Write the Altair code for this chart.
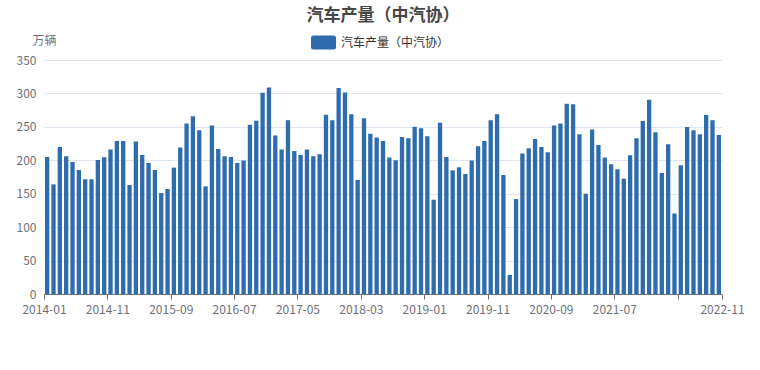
import altair as alt
import pandas as pd

# Monthly car production (CAAM), 10k vehicles, 2014-01 .. 2022-11
values = [
    205, 164, 220, 206, 197.5, 185.5, 171.6, 171.6, 200.5, 204.5, 216, 229,      # 2014
    229, 163, 228, 208, 196, 185.5, 151, 157, 189, 219, 255, 266,                # 2015
    245, 161, 252, 217, 206, 205, 196, 199.5, 253, 259, 301, 309,                # 2016
    237, 216, 260, 214, 208, 216, 206, 209, 268, 260, 308, 301.5,                # 2017
    268.7, 170.6, 262.7, 239.8, 234, 229, 204, 200, 235, 233, 250, 248,          # 2018
    236, 141, 256, 205, 185, 189.5, 179.6, 199.5, 221, 229, 260, 268.7,          # 2019
    178, 28.4, 142, 210, 218, 232, 220, 212, 252, 255, 284.6, 284,               # 2020
    239, 150, 246, 223, 204, 194, 186.6, 172.6, 207.5, 233, 258.7, 290.5,        # 2021
    242, 181, 224, 120.4, 192.5, 249.8, 245, 239, 267.7, 259.7, 238,             # 2022
]
months = [f"{2014 + i // 12}-{i % 12 + 1:02d}" for i in range(len(values))]
series_name = "汽车产量（中汽协）"
tick_index = [0, 10, 20, 30, 40, 50, 60, 70, 80, 90, 100, 107]
tick_labels = ["2014-01", "2014-11", "2015-09", "2016-07", "2017-05", "2018-03",
               "2019-01", "2019-11", "2020-09", "2021-07", "", "2022-11"]

df = pd.DataFrame({
    "i": list(range(len(values))),
    "month": months,
    "value": values,
    "series": [series_name] * len(values),
})

FONT = "Noto Sans CJK SC"
GREY = "#6E7079"

label_expr = ("[" + ",".join(f"'{t}'" for t in tick_labels) + "][indexof(["
              + ",".join(str(v) for v in tick_index) + "], datum.value)]")

legend_shape = ("M-0.8,-0.56 H0.8 Q1,-0.56 1,-0.36 V0.36 Q1,0.56 0.8,0.56 "
                "H-0.8 Q-1,0.56 -1,0.36 V-0.36 Q-1,-0.56 -0.8,-0.56 Z")

chart = alt.Chart(df).transform_calculate(
    x0="datum.i + 0.16", x1="datum.i + 0.84"
).mark_bar().encode(
    x=alt.X("x0:Q", scale=alt.Scale(domain=[0, 107], nice=False, zero=False),
            axis=alt.Axis(values=tick_index, labelExpr=label_expr, grid=False,
                          title=None, domainColor=GREY, tickColor=GREY, tickSize=5,
                          labelColor=GREY, labelFontSize=12, labelPadding=5,
                          labelFont=FONT, labelFlush=False, labelOverlap=False)),
    x2="x1:Q",
    y=alt.Y("value:Q", scale=alt.Scale(domain=[0, 350], nice=False, padding=0),
            axis=alt.Axis(values=[0, 50, 100, 150, 200, 250, 300, 350], domain=False,
                          ticks=False, gridColor="#E0E6F1", labelColor=GREY,
                          labelFontSize=12, labelPadding=8, labelFont=FONT,
                          title="万辆", titleAngle=0, titleX=0, titleY=-20,
                          titleAlign="center", titleBaseline="middle",
                          titleFontWeight="normal", titleColor=GREY,
                          titleFontSize=12, titleFont=FONT)),
    y2=alt.datum(0),
    color=alt.Color("series:N", scale=alt.Scale(range=["#2E6CAD"]),
                    legend=alt.Legend(title=None, orient="none", legendX=267,
                                      legendY=-30, symbolType=legend_shape,
                                      symbolSize=625, symbolStrokeWidth=0,
                                      labelFontSize=12, labelColor="#333333",
                                      labelFont=FONT, labelOffset=5, padding=0)),
).properties(
    width=678, height=234,
    title=alt.TitleParams(series_name, fontSize=17, fontWeight="bold",
                          color="#464646", anchor="middle", font=FONT,
                          offset=5),
    autosize=alt.AutoSizeParams(type="none"),
    padding={"left": 44, "top": 60, "right": 38, "bottom": 76},
).configure_view(stroke=None)

chart.save("out.html", embed_options={"renderer": "svg", "actions": False})
